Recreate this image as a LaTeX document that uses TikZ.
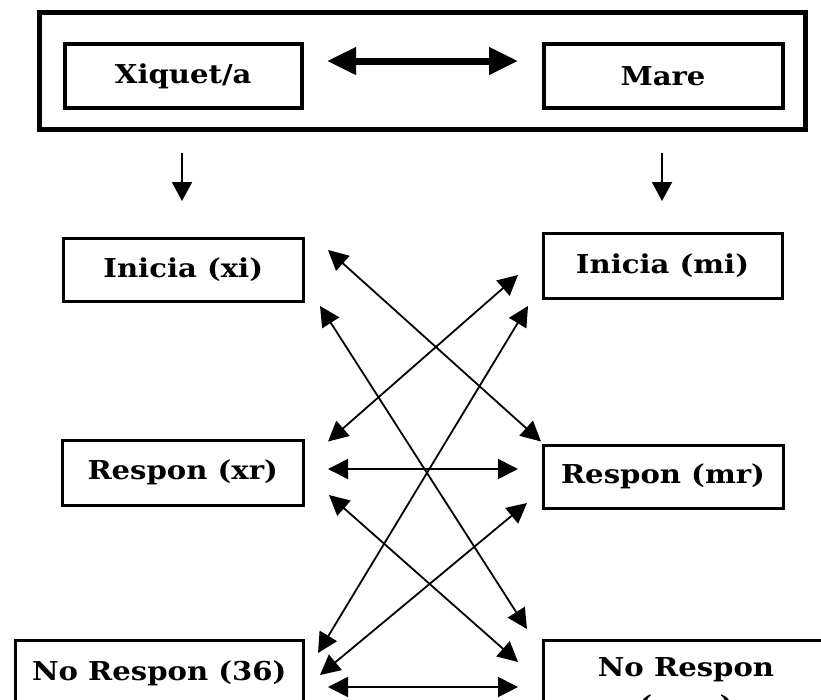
\documentclass[tikz,border=0pt]{standalone}
\usepackage{fontspec}
\setmainfont{DejaVu Serif}[BoldFeatures={FakeStretch=1.12}]
\usetikzlibrary{arrows.meta}
\begin{document}
\begin{tikzpicture}[x=1pt,y=-1pt,
  lbl/.style={font=\bfseries\fontsize{26}{30}\selectfont},
  box/.style={draw,line width=3.5pt,inner sep=0pt,lbl,align=center},
  link/.style={line width=1.8pt,{Triangle[length=20pt,width=20pt]}-{Triangle[length=20pt,width=20pt]}},
  down/.style={line width=2pt,-{Triangle[length=19pt,width=20pt]}},
  bigarrow/.style={line width=7pt,{Triangle[length=29pt,width=26pt]}-{Triangle[length=29pt,width=26pt]}}
  ]
\useasboundingbox (0,0) rectangle (821,699);
\clip (0,0) rectangle (821,699);
% top frame
\node[draw,line width=5pt,inner sep=0pt,minimum width=765.5pt,minimum height=117pt] (outer) at (422.25,71) {};
\node[box,line width=4pt,minimum width=237.5pt,minimum height=64pt] (xiquet) at (183.25,76) {Xiquet/a};
\node[box,line width=4pt,minimum width=239pt,minimum height=64pt] (mare) at (663,76) {Mare};
\coordinate (ta) at (327,61);
\coordinate (tb) at (518,61);
\draw[bigarrow] (ta) -- (tb);
% small down arrows
\coordinate (dxa) at (182,153);
\coordinate (dxb) at (182,201);
\coordinate (dma) at (662,153);
\coordinate (dmb) at (662,201);
\draw[down] (dxa) -- (dxb);
\draw[down] (dma) -- (dmb);
% boxes
\node[box,line width=3pt,minimum width=239.5pt,minimum height=63.5pt] (xi) at (183.25,269.75) {Inicia (xi)};
\node[box,line width=3pt,minimum width=239pt,minimum height=65pt] (mi) at (662.5,266) {Inicia (mi)};
\node[box,line width=3pt,minimum width=241.5pt,minimum height=65pt] (xr) at (182.75,472.5) {Respon (xr)};
\node[box,line width=3pt,minimum width=240pt,minimum height=63pt] (mr) at (663,476.5) {Respon (mr)};
\node[box,line width=3pt,minimum width=288.5pt,minimum height=66pt] (xnr) at (159.25,673) {No Respon (36)};
\node[box,line width=3pt,minimum width=286pt,minimum height=96pt] (mnr) at (686,688) {No Respon\\[8pt](mnr)};
% connector end points
\coordinate (a1) at (328,250);   \coordinate (b1) at (541,441.5);
\coordinate (a2) at (320,306);   \coordinate (b2) at (527,629);
\coordinate (a3) at (518,275);   \coordinate (b3) at (328,441.5);
\coordinate (a4) at (528,306);   \coordinate (b4) at (318,653);
\coordinate (a5) at (328,469);   \coordinate (b5) at (518,469);
\coordinate (a6) at (329,495);   \coordinate (b6) at (518,662);
\coordinate (a7) at (527,503);   \coordinate (b7) at (320,675);
\coordinate (a8) at (328,687);   \coordinate (b8) at (518,687);
\foreach \i in {1,...,8} {\draw[link] (a\i) -- (b\i);}
\end{tikzpicture}
\end{document}
